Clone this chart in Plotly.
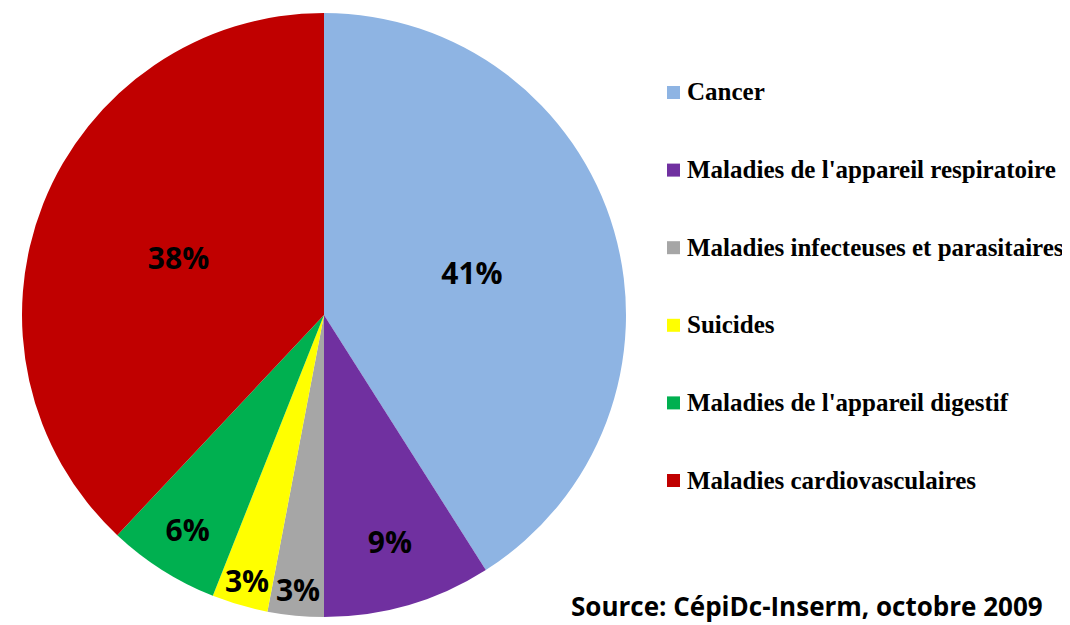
import plotly.graph_objects as go

categories = ["Cancer", "Maladies de l'appareil respiratoire", "Maladies infecteuses et parasitaires",
              "Suicides", "Maladies de l'appareil digestif", "Maladies cardiovasculaires"]
values = [41, 9, 3, 3, 6, 38]
colors = ["#8EB4E3", "#7030A0", "#A6A6A6", "#FFFF00", "#00B050", "#C00000"]
source_text = "Source: CépiDc-Inserm, octobre 2009"

# the page body has an 8px margin, so work in reference pixels minus 8
OFF = 8
W, H = 1070 - OFF, 625 - OFF


def px(x):
    return (x - OFF) / W


def py(y):
    return 1 - (y - OFF) / H


fig = go.Figure()
fig.add_trace(go.Pie(
    labels=categories, values=values, sort=False, direction="clockwise", rotation=0,
    marker=dict(colors=colors, line=dict(width=0)),
    texttemplate="%{percent:.0%}", textposition="inside", insidetextorientation="horizontal",
    textfont=dict(family="Open Sans", size=30, color="black", weight="bold"),
    domain=dict(x=[px(11), px(637)], y=[py(617), py(13)]),
    showlegend=False, hoverinfo="label+percent",
))

# legend drawn manually (square + label), evenly spaced
leg_top, leg_step = 92, 77.6
for i, (cat, col) in enumerate(zip(categories, colors)):
    yc = leg_top + i * leg_step
    fig.add_shape(type="rect", xref="paper", yref="paper",
                  x0=px(667), x1=px(680), y0=py(yc - 6), y1=py(yc + 7),
                  fillcolor=col, line=dict(width=0))
    fig.add_annotation(x=px(685), y=py(yc), xref="paper", yref="paper",
                       text=cat, showarrow=False, xanchor="left", yanchor="middle",
                       font=dict(family="Liberation Serif", size=25, color="black", weight="bold"))

fig.add_annotation(x=px(1045), y=py(606), xref="paper", yref="paper", text=source_text,
                   showarrow=False, xanchor="right", yanchor="middle",
                   font=dict(family="Open Sans", size=26, color="black", weight="bold"))

fig.update_layout(width=W, height=H, margin=dict(l=0, r=0, t=0, b=0),
                  paper_bgcolor="white", plot_bgcolor="white",
                  uniformtext=dict(minsize=30, mode="show"))
fig.write_html("out.html")
